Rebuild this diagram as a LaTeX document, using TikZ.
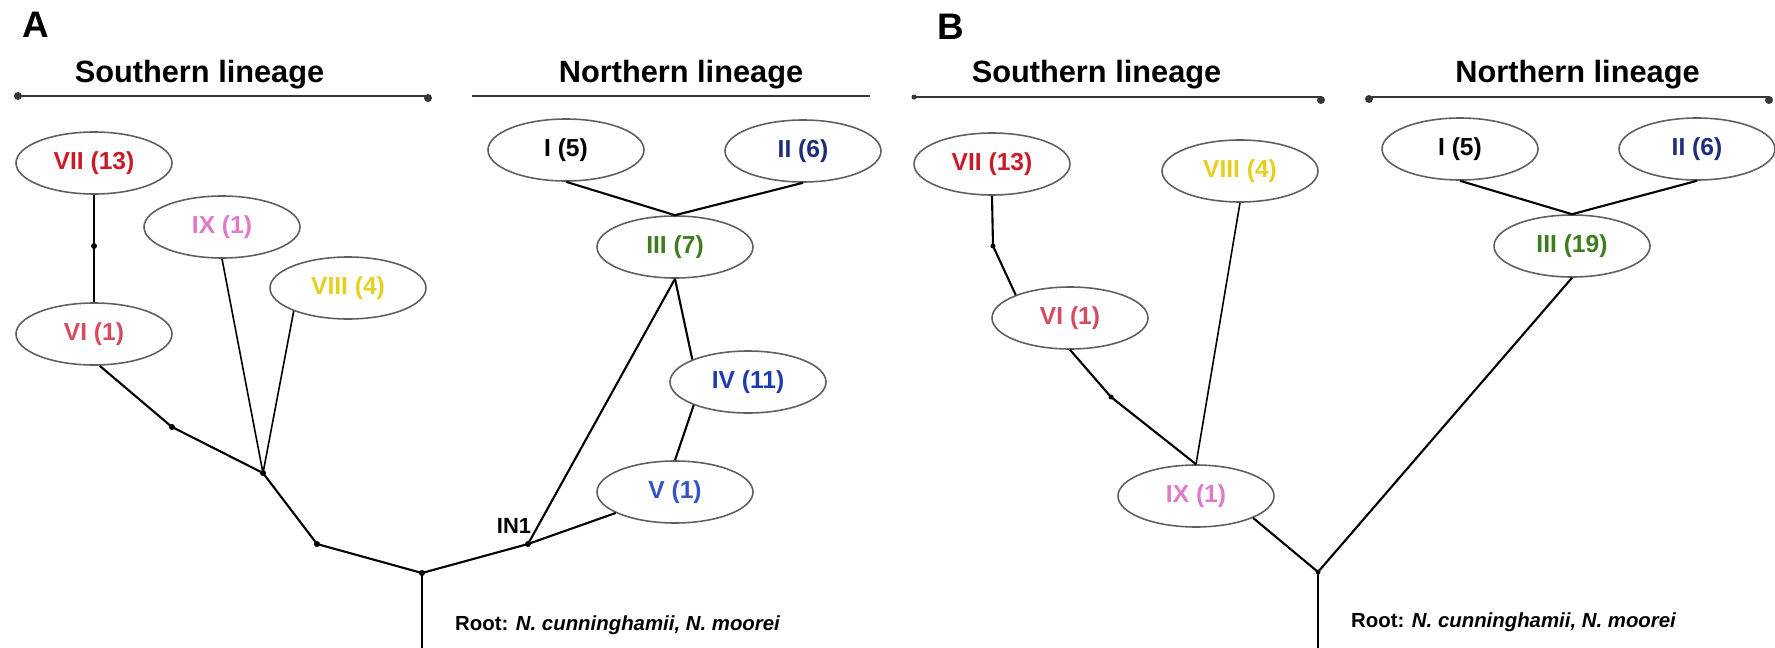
\documentclass[tikz,border=0pt]{standalone}
\usepackage{fontspec}
\setmainfont{Liberation Sans}
\usetikzlibrary{shapes.geometric}

\definecolor{ellgray}{RGB}{95,95,95}
\definecolor{bargray}{RGB}{55,55,55}
\definecolor{hapVII}{RGB}{200,28,40}
\definecolor{hapVI}{RGB}{215,75,95}
\definecolor{hapIX}{RGB}{225,120,200}
\definecolor{hapVIII}{RGB}{228,208,30}
\definecolor{hapII}{RGB}{30,45,120}
\definecolor{hapIII}{RGB}{60,125,30}
\definecolor{hapIV}{RGB}{30,60,170}
\definecolor{hapV}{RGB}{50,85,195}

\begin{document}
\begin{tikzpicture}[
    hap/.style={ellipse, draw=ellgray, line width=0.9pt, minimum width=3.12cm, minimum height=1.24cm, inner sep=0pt, font=\bfseries\fontsize{14}{16}\selectfont},
    edge/.style={line width=1.2pt},
    bar/.style={draw=bargray, line width=1.7pt},
    lineage/.style={anchor=base, font=\bfseries\fontsize{17.5}{20}\selectfont},
    panel/.style={font=\bfseries\fontsize{21}{24}\selectfont},
    roottext/.style={anchor=west, font=\bfseries\fontsize{11.6}{14}\selectfont},
]
    \useasboundingbox (0,0) rectangle (35.5,-12.96);

    % panel A
    \node[panel] (labA) at (0.72, -0.50) {A};
    \node[lineage] (southA) at (3.99, -1.64) {Southern lineage};
    \node[lineage] (northA) at (13.62, -1.64) {Northern lineage};
    \draw[bar] (0.34, -1.92) -- (8.58, -1.92);
    \draw[bar] (9.44, -1.92) -- (17.40, -1.92);
    \fill[bargray] (0.36, -1.92) circle (0.08);
    \fill[bargray] (8.56, -1.96) circle (0.08);

    \node[hap, text=hapVII] (viiA) at (1.88, -3.26) {VII (13)};
    \node[hap, text=hapIX] (ixA) at (4.44, -4.54) {IX (1)};
    \node[hap, text=hapVIII] (viiiA) at (6.96, -5.76) {VIII (4)};
    \node[hap, text=hapVI] (viA) at (1.88, -6.68) {VI (1)};
    \node[hap] (iA) at (11.32, -3.00) {I (5)};
    \node[hap, text=hapII] (iiA) at (16.06, -3.02) {II (6)};
    \node[hap, text=hapIII] (iiiA) at (13.50, -4.94) {III (7)};
    \node[hap, text=hapIV] (ivA) at (14.96, -7.64) {IV (11)};
    \node[hap, text=hapV] (vA) at (13.50, -9.84) {V (1)};

    \coordinate (mA1) at (1.88, -4.92);
    \coordinate (mA2) at (3.44, -8.54);
    \coordinate (jA) at (5.26, -9.46);
    \coordinate (mA3) at (6.34, -10.88);
    \coordinate (rA) at (8.44, -11.46);
    \coordinate (in1) at (10.56, -10.88);
    \coordinate (baseA) at (8.44, -12.96);

    \draw[edge] (viiA) -- (mA1) -- (viA);
    \draw[edge] (viA.-80) -- (mA2) -- (jA);
    \draw[edge, line width=0.9pt] (ixA.south) -- (jA);
    \draw[edge, line width=0.9pt] (viiiA.-157) -- (jA);
    \draw[edge] (jA) -- (mA3) -- (rA) -- (in1) -- (vA);
    \draw[edge] (rA) -- (baseA);
    \draw[edge] (in1) -- (iiiA.south);
    \draw[edge] (iiiA.south) -- (ivA.158);
    \draw[edge] (ivA.-157) -- (vA.north);
    \draw[edge] (iA.south) -- (iiiA.north) -- (iiA.south);

    \foreach \p in {mA1, mA2, jA, mA3, rA, in1}
        \fill (\p) circle (0.06);

    \node[font=\bfseries\fontsize{12.5}{14}\selectfont] (in1text) at (10.28, -10.52) {IN1};
    \node[roottext] (rootA) at (8.98, -12.50) {Root: \textit{N. cunninghamii, N. moorei}};

    % panel B
    \node[panel] (labB) at (19.02, -0.54) {B};
    \node[lineage] (southB) at (21.93, -1.64) {Southern lineage};
    \node[lineage] (northB) at (31.55, -1.64) {Northern lineage};
    \draw[bar] (18.26, -1.94) -- (26.44, -1.94);
    \draw[bar] (27.36, -1.94) -- (35.40, -1.94);
    \fill[bargray] (18.28, -1.94) circle (0.05);
    \fill[bargray] (26.42, -2.00) circle (0.08);
    \fill[bargray] (27.38, -1.98) circle (0.08);
    \fill[bargray] (35.38, -2.00) circle (0.08);

    \node[hap, text=hapVII] (viiB) at (19.84, -3.28) {VII (13)};
    \node[hap, text=hapVIII] (viiiB) at (24.80, -3.42) {VIII (4)};
    \node[hap] (iB) at (29.20, -2.98) {I (5)};
    \node[hap, text=hapII] (iiB) at (33.94, -2.98) {II (6)};
    \node[hap, text=hapIII] (iiiB) at (31.44, -4.92) {III (19)};
    \node[hap, text=hapVI] (viB) at (21.40, -6.36) {VI (1)};
    \node[hap, text=hapIX] (ixB) at (23.92, -9.92) {IX (1)};

    \coordinate (mB1) at (19.86, -4.92);
    \coordinate (mB2) at (22.22, -7.94);
    \coordinate (rB) at (26.36, -11.44);
    \coordinate (baseB) at (26.36, -12.96);

    \draw[edge] (viiB.south) -- (mB1) -- (viB.157);
    \draw[edge] (viB.south) -- (mB2) -- (ixB.north);
    \draw[edge, line width=0.9pt] (viiiB.south) -- (ixB.north);
    \draw[edge] (ixB.-21) -- (rB) -- (iiiB.south);
    \draw[edge] (rB) -- (baseB);
    \draw[edge] (iB.south) -- (iiiB.north) -- (iiB.south);

    \foreach \p in {mB1, mB2, rB}
        \fill (\p) circle (0.05);

    \node[roottext] (rootB) at (26.90, -12.44) {Root: \textit{N. cunninghamii, N. moorei}};
\end{tikzpicture}
\end{document}
